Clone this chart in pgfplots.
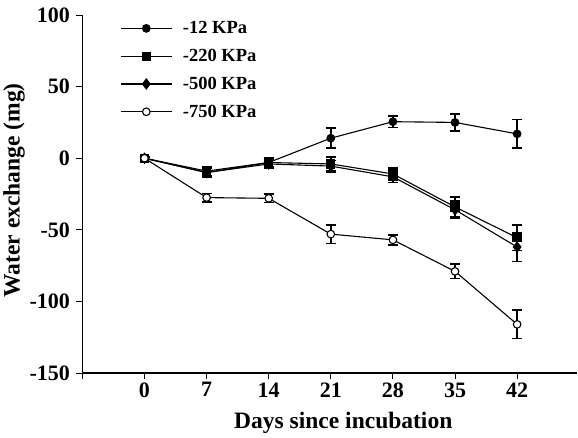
\documentclass[border=0pt]{standalone}
\usepackage{pgfplots}
\pgfplotsset{compat=1.18}
\usepackage{fontspec}
\setmainfont{Liberation Serif}

\pgfplotsset{eb/.style={black, line width=1.1pt,
    error bars/y dir=both, error bars/y explicit,
    error bars/error bar style={line width=1.6pt},
    error bars/error mark options={rotate=90, mark size=5pt, line width=1.6pt}}}

\begin{document}
\begin{tikzpicture}
\begin{axis}[scale only axis, width=495pt, height=358pt,
  xmin=-7, xmax=48.8, ymin=-150, ymax=100,
  axis lines*=left, axis line style={line width=1.1pt},
  xtick={0,7,14,21,28,35,42}, ytick={-150,-100,-50,0,50,100},
  extra x ticks={-7}, extra x tick labels={},
  tick align=outside, tick style={black, line width=1pt}, major tick length=6pt,
  tick label style={font=\fontsize{22}{24}\selectfont\bfseries},
  yticklabel style={xshift=-3pt},
  /pgf/number format/assume math mode=true,
  xlabel={Days since incubation}, ylabel={Water exchange (mg)},
  label style={font=\fontsize{23.5}{26}\selectfont\bfseries},
  x label style={at={(axis description cs:0.527,0)}, anchor=base, yshift=-55pt},
  y label style={at={(axis description cs:-0.138,0.51)}, anchor=center},
  legend style={draw=none, fill=none, inner sep=0pt, at={(axis cs:-2.7,97)}, anchor=north west,
    font=\fontsize{18.5}{20}\selectfont\bfseries, row sep=10pt,
    /tikz/every odd column/.append style={column sep=8pt}},
  legend cell align=left,
  legend image code/.code={\draw[mark repeat=2, mark phase=2] plot coordinates {(0pt,0pt) (25pt,0pt) (51pt,0pt)};},
  extra description/.code={
    \path (axis description cs:0,1) ++(0,15pt);
    \path (axis description cs:0,0) ++(0,-64pt);},
]
\addplot[eb, mark=*, mark size=3.8pt, mark options={solid, fill=black}] coordinates {
  (0,0) +- (0,1) (7,-10) +- (0,3) (14,-3) +- (0,3) (21,14) +- (0,7)
  (28,25.5) +- (0,4) (35,25) +- (0,6) (42,17) +- (0,10)};
\addlegendentry{-12 KPa}
\addplot[eb, mark=square*, mark size=4.1pt, mark options={solid, fill=black}] coordinates {
  (0,0) +- (0,1) (7,-9) +- (0,3) (14,-3) +- (0,3) (21,-4) +- (0,5)
  (28,-11) +- (0,4) (35,-34) +- (0,7) (42,-55.5) +- (0,9)};
\addlegendentry{-220 KPa}
\addplot[eb, mark=diamond*, mark size=5pt, mark options={solid, fill=black}] coordinates {
  (0,0) +- (0,1) (7,-10) +- (0,3) (14,-4) +- (0,3) (21,-5.5) +- (0,4)
  (28,-13) +- (0,4) (35,-36) +- (0,6) (42,-62) +- (0,10)};
\addlegendentry{-500 KPa}
\addplot[eb, mark=*, mark size=3.8pt, mark options={solid, fill=white}] coordinates {
  (0,0) +- (0,1) (7,-27.5) +- (0,3) (14,-28) +- (0,3) (21,-53) +- (0,6.5)
  (28,-57) +- (0,3.5) (35,-79) +- (0,5) (42,-116) +- (0,10)};
\addlegendentry{-750 KPa}
\end{axis}
\end{tikzpicture}
\end{document}
